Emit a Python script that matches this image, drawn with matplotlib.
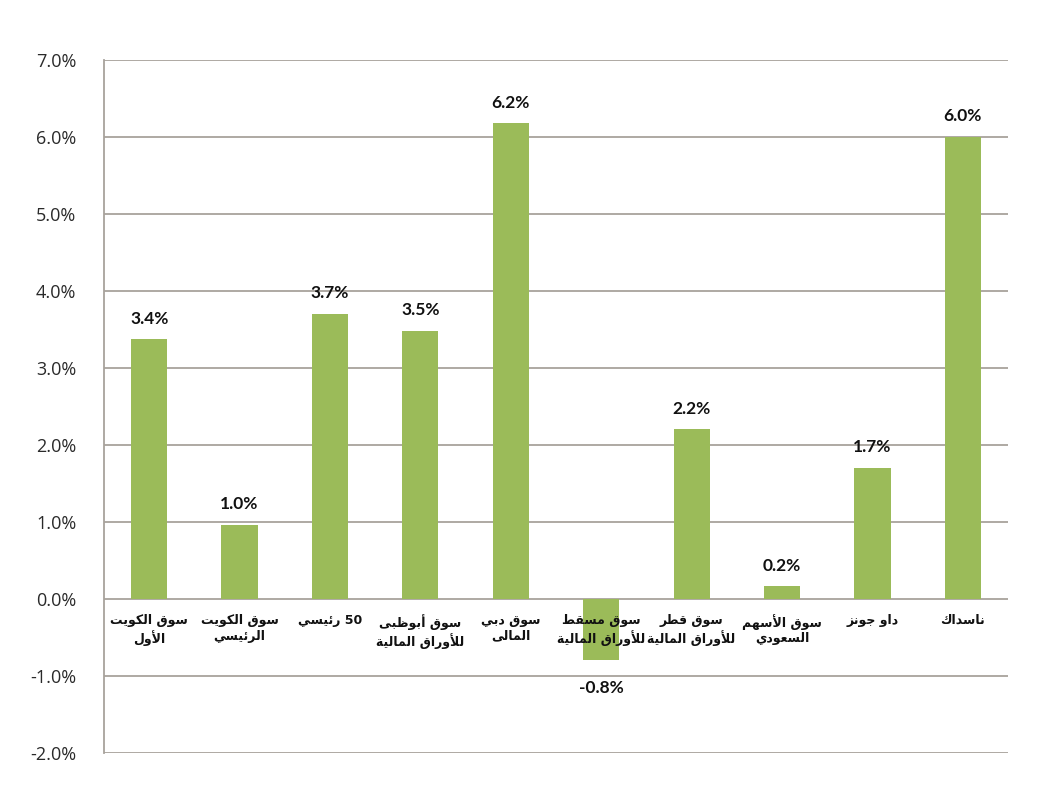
import matplotlib; matplotlib.use("Agg")
import matplotlib.pyplot as plt
from matplotlib.ticker import FuncFormatter, MultipleLocator

# category labels, logical (reading) order, one list item per line
labels = [
    ["سوق الكويت", "الأول"],
    ["سوق الكويت", "الرئيسي"],
    ["50 رئيسي"],
    ["سوق أبوظبى", "للأوراق المالية"],
    ["سوق دبي", "المالى"],
    ["سوق مسقط", "للأوراق المالية"],
    ["سوق قطر", "للأوراق المالية"],
    ["سوق الأسهم", "السعودي"],
    ["داو جونز"],
    ["ناسداك"],
]
values = [3.37, 0.96, 3.70, 3.48, 6.18, -0.80, 2.20, 0.16, 1.70, 6.00]
value_text = ["3.4%", "1.0%", "3.7%", "3.5%", "6.2%", "-0.8%", "2.2%", "0.2%", "1.7%", "6.0%"]

# matplotlib has no Arabic shaping: map letters to presentation forms by hand
FORMS = {
    "ا": (0xFE8D, 0xFE8E), "أ": (0xFE83, 0xFE84), "ب": (0xFE8F, 0xFE90, 0xFE91, 0xFE92),
    "ة": (0xFE93, 0xFE94), "ت": (0xFE95, 0xFE96, 0xFE97, 0xFE98), "ج": (0xFE9D, 0xFE9E, 0xFE9F, 0xFEA0),
    "د": (0xFEA9, 0xFEAA), "ر": (0xFEAD, 0xFEAE), "ز": (0xFEAF, 0xFEB0),
    "س": (0xFEB1, 0xFEB2, 0xFEB3, 0xFEB4), "ط": (0xFEC1, 0xFEC2, 0xFEC3, 0xFEC4),
    "ظ": (0xFEC5, 0xFEC6, 0xFEC7, 0xFEC8), "ع": (0xFEC9, 0xFECA, 0xFECB, 0xFECC),
    "ق": (0xFED5, 0xFED6, 0xFED7, 0xFED8), "ك": (0xFED9, 0xFEDA, 0xFEDB, 0xFEDC),
    "ل": (0xFEDD, 0xFEDE, 0xFEDF, 0xFEE0), "م": (0xFEE1, 0xFEE2, 0xFEE3, 0xFEE4),
    "ن": (0xFEE5, 0xFEE6, 0xFEE7, 0xFEE8), "ه": (0xFEE9, 0xFEEA, 0xFEEB, 0xFEEC),
    "و": (0xFEED, 0xFEEE), "ى": (0xFEEF, 0xFEF0), "ي": (0xFEF1, 0xFEF2, 0xFEF3, 0xFEF4),
    "ئ": (0xFE89, 0xFE8A, 0xFE8B, 0xFE8C),
}
LAMALEF = {"ا": (0xFEFB, 0xFEFC), "أ": (0xFEF7, 0xFEF8)}

def shape_word(w):
    chars, i = [], 0
    while i < len(w):
        if w[i] == "ل" and i + 1 < len(w) and w[i + 1] in LAMALEF:
            chars.append(("LA", w[i + 1])); i += 2
        else:
            chars.append((w[i], None)); i += 1
    out = []
    for k, (c, a) in enumerate(chars):
        prev = chars[k - 1][0] if k > 0 else None
        jp = prev in FORMS and len(FORMS[prev]) == 4
        if c == "LA":
            out.append(chr(LAMALEF[a][1 if jp else 0])); continue
        f = FORMS[c]
        jn = len(f) == 4 and k + 1 < len(chars)
        out.append(chr(f[{(0, 0): 0, (1, 0): 1, (0, 1): 2, (1, 1): 3}[(jp, jn)]]))
    return "".join(reversed(out))

def rtl(line):
    # visual order, left to right: words reversed, digits kept as they are
    toks = line.split(" ")
    return " ".join(t if t.isdigit() else shape_word(t) for t in reversed(toks))

GREEN = "#9BBB59"
GRID = "#A8A29C"

fig = plt.figure(figsize=(10.63, 7.88), dpi=100)
ax = fig.add_axes([0.0978, 0.0448, 0.8505, 0.8791])
x = list(range(len(values)))
ax.bar(x, values, width=0.4, color=GREEN, zorder=2)

ax.set_xlim(-0.5, len(values) - 0.5)
ax.set_ylim(-2, 7)
ax.yaxis.set_major_locator(MultipleLocator(1))
ax.yaxis.set_major_formatter(FuncFormatter(lambda v, p: f"{v:.1f}%"))
ax.grid(axis="y", color=GRID, lw=1.3, zorder=0)
ax.set_axisbelow(True)
for s in ["top", "right", "bottom"]:
    ax.spines[s].set_visible(False)
ax.spines["left"].set_color(GRID)
ax.spines["left"].set_linewidth(1.3)
ax.set_xticks([])
ax.tick_params(axis="y", length=0, pad=20, labelsize=13, colors="#2a2a2a")
for t in ax.get_yticklabels():
    t.set_fontfamily("Open Sans")

for xi, v, txt in zip(x, values, value_text):
    up = v >= 0
    ax.annotate(txt, (xi, v), xytext=(0, 9 if up else -14), textcoords="offset points",
                ha="center", va="bottom" if up else "top", fontsize=12.5,
                fontweight="bold", family="Lato", color="#111111", zorder=4)

for xi, lines in zip(x, labels):
    ax.annotate("\n".join(rtl(l) for l in lines), (xi, 0), xytext=(0, -11),
                textcoords="offset points", ha="center", va="top",
                fontsize=9, fontweight="bold", family=["DejaVu Sans"],
                color="#111111", linespacing=1.25, zorder=5)

fig.savefig("out.png", dpi=100, facecolor="white")
